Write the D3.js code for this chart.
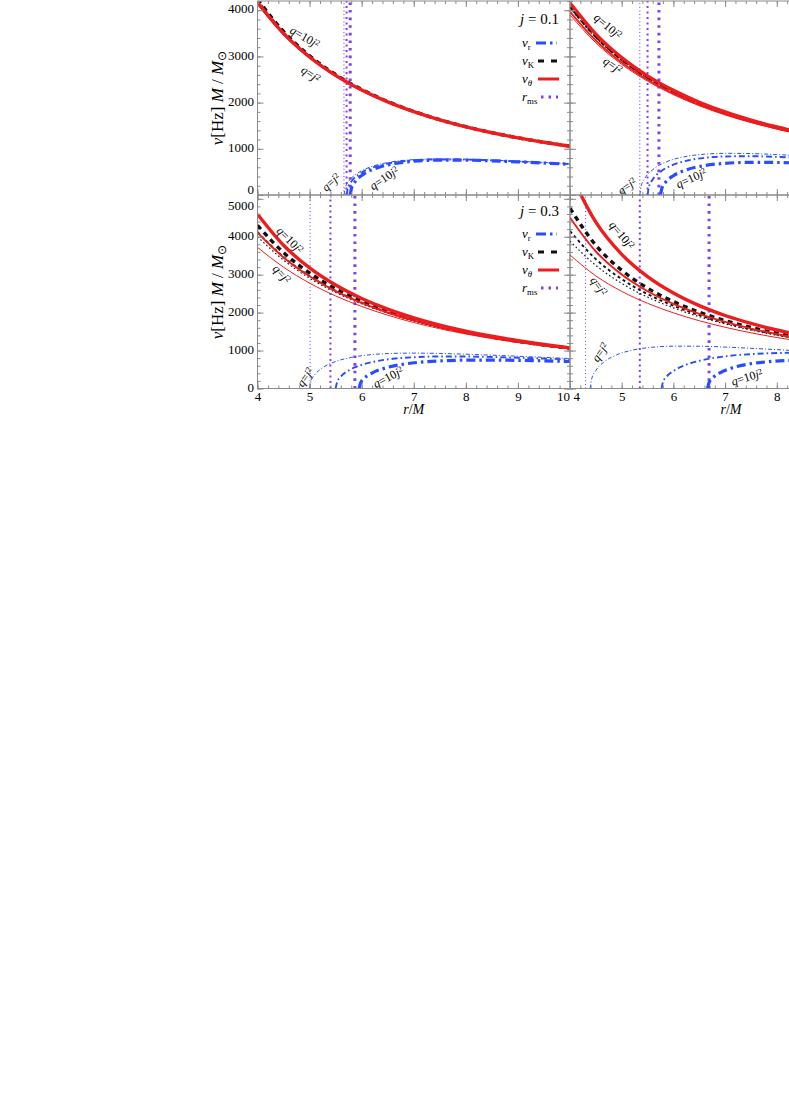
<!DOCTYPE html>
<html><head><meta charset="utf-8">
<script src="https://cdn.jsdelivr.net/npm/d3@7"></script>
<style>
body{margin:0;background:#fff}
svg{display:block}
text{font-family:"Liberation Serif","Times New Roman",serif;fill:#000}
</style>
</head><body>
<svg id="c" width="789" height="1115"></svg>
<script>
// ---------------- data ----------------
const rGrid = [4,4.5,5,5.5,6,6.5,7,7.5,8,8.5,9,9.5,10];
const xTicks = [4,5,6,7,8,9,10];
const yTicksTop = [0,1000,2000,3000,4000];
const yTicksBottom = [0,1000,2000,3000,4000,5000];

// top-left, j = 0.1
const tlThetaThin  = [4125,3465,2963,2571,2259,2005,1795,1620,1472,1345,1235,1139,1054];
const tlThetaMed   = [4150,3482,2975,2580,2266,2010,1799,1623,1474,1346,1236,1140,1055];
const tlThetaThick = [4175,3499,2987,2589,2273,2015,1803,1626,1476,1348,1237,1141,1056];
const tlKThin  = [4190,3508,2994,2593,2275,2017,1804,1627,1477,1348,1237,1141,1056];
const tlKMed   = [4215,3524,3004,2600,2280,2020,1806,1628,1478,1349,1238,1141,1056];
const tlKThick = [4240,3540,3015,2608,2286,2024,1809,1630,1479,1350,1239,1142,1057];
const tlRThinR  = [5.66,5.69,5.76,5.91,6.16,6.5,7,7.5,8,8.5,9,9.5,10];
const tlRThin   = [0,173,309,464,604,703,765,781,774,756,731,704,675];
const tlRMedR   = [5.71,5.74,5.81,5.96,6.21,6.5,7,7.5,8,8.5,9,9.5,10];
const tlRMed    = [0,170,304,456,594,681,751,770,766,749,725,699,671];
const tlRThickR = [5.78,5.81,5.88,6.03,6.28,6.5,7,7.5,8,8.5,9,9.5,10];
const tlRThick  = [0,166,296,446,581,651,730,755,754,740,718,693,665];
const tlRms = [5.66,5.71,5.78];

// top-right
const trThetaThin  = [3899,3294,2829,2465,2173,1933,1735,1569,1427,1306,1201,1109,1028];
const trThetaMed   = [3966,3344,2868,2495,2197,1953,1751,1583,1439,1316,1210,1117,1035];
const trThetaThick = [4154,3483,2975,2580,2265,2009,1798,1622,1472,1345,1234,1139,1054];
const trKThin  = [4050,3406,2915,2533,2228,1978,1772,1600,1454,1329,1221,1127,1043];
const trKMed   = [4075,3424,2930,2544,2237,1985,1778,1605,1458,1333,1224,1129,1046];
const trKThick = [4100,3443,2944,2555,2246,1993,1784,1610,1463,1337,1227,1132,1048];
const trRThinR  = [5.35,5.38,5.45,5.6,5.85,6.2,6.6,7,7.5,8,8.5,9,9.5,10];
const trRThin   = [0,206,366,548,711,825,883,902,897,875,845,811,777,742];
const trRMedR   = [5.5,5.53,5.6,5.75,6.0,6.3,6.6,7,7.5,8,8.5,9,9.5,10];
const trRMed    = [0,189,337,505,656,753,804,835,840,825,801,771,740,708];
const trRThickR = [5.75,5.78,5.85,6.0,6.25,6.6,7,7.5,8,8.5,9,9.5,10];
const trRThick  = [0,156,278,418,544,636,686,707,704,690,669,645,620];
const trRms = [5.35,5.50,5.72];

// bottom-left, j = 0.3
const blThetaThin  = [3720,3198,2778,2440,2163,1932,1739,1576,1436,1316,1210,1119,1038];
const blThetaMed   = [4108,3455,2957,2567,2257,2003,1794,1619,1470,1343,1233,1138,1053];
const blThetaThick = [4593,3775,3178,2726,2374,2091,1862,1672,1513,1378,1261,1161,1073];
const blKThin  = [4000,3383,2907,2532,2231,1983,1778,1607,1461,1335,1227,1133,1049];
const blKMed   = [4125,3466,2964,2573,2261,2006,1796,1620,1472,1344,1234,1139,1054];
const blKThick = [4300,3582,3044,2630,2303,2038,1821,1640,1487,1357,1244,1147,1061];
const blRThinR  = [5.0,5.03,5.1,5.25,5.5,5.8,6.2,6.6,7,7.5,8,8.5,9,9.5,10];
const blRThin   = [0,204,363,546,711,820,894,925,933,924,904,879,850,820,790];
const blRMedR   = [5.5,5.53,5.6,5.75,6.0,6.3,6.6,7,7.5,8,8.5,9,9.5,10];
const blRMed    = [0,176,315,475,624,724,783,825,844,843,831,812,790,765];
const blRThickR = [5.95,5.98,6.05,6.2,6.45,6.8,7.2,7.6,8,8.5,9,9.5,10];
const blRThick  = [0,150,269,408,538,640,702,734,748,750,742,729,711];
const blRms = [5.01,5.40,5.87];

// bottom-right
const brThetaThin  = [3520,2967,2560,2245,1994,1786,1614,1468,1343,1235,1141,1058,984];
const brThetaMed   = [4501,3611,3004,2564,2230,1967,1754,1580,1433,1309,1202,1109,1027];
const brThetaThick = [5678,4384,3537,2948,2516,2184,1924,1715,1542,1399,1276,1172,1080];
const brKThin  = [3885,3243,2771,2410,2125,1892,1700,1539,1403,1285,1183,1094,1015];
const brKMed   = [4150,3410,2883,2488,2181,1934,1732,1565,1423,1301,1196,1105,1025];
const brKThick = [4751,3774,3117,2645,2291,2012,1790,1608,1456,1328,1217,1122,1039];
const brRThinR  = [4.39,4.42,4.5,4.65,4.9,5.2,5.6,6.0,6.5,7,7.5,8,8.5,9,10];
const brRThin   = [0,256,475,691,885,1009,1087,1115,1114,1092,1060,1024,986,947,873];
const brRMedR   = [5.77,5.8,5.87,6.0,6.25,6.6,7,7.5,8,8.5,9,10];
const brRMed    = [0,175,315,462,627,760,847,906,934,943,942,920];
const brRThickR = [6.66,6.69,6.76,6.9,7.1,7.4,7.8,8.2,8.6,9,10];
const brRThick  = [0,155,277,412,527,630,703,740,755,757,732];
const brRms = [4.30,5.35,6.69];

// ---------------- styles ----------------
const RED = '#ee1c1c', BLUE = '#2a4cff', PURPLE = '#8040f0', BLACK = '#111';
const FRAME = '#8a8a8a';
const SERIF = '"Liberation Serif","Times New Roman",serif';
const sty = {
  red:   [{w:1},{w:1.9},{w:3.4}],
  black: [{w:1.1,d:'1.6,2.4'},{w:1.9,d:'3,3'},{w:3.4,d:'5,4.5'}],
  blue:  [{w:1,d:'4,2,1,2'},{w:1.9,d:'6,3,1.6,3'},{w:3.2,d:'9,4,2.5,4'}],
  rms:   [{w:1.1,d:'1,2.6'},{w:2,d:'2,3.5'},{w:3,d:'2.6,5'}]
};

const svg = d3.select('#c');
const W = 789;
const xL = d3.scaleLinear().domain([4,10]).range([257.5,570]);
const xR = d3.scaleLinear().domain([4,10]).range([570,880.2]);
const yT = d3.scaleLinear().domain([0,4200]).range([195,1]);
const yB = d3.scaleLinear().domain([0,5100]).range([388.5,195]);

const panels = [
  {id:'tl', x:xL, y:yT, rms:tlRms, theta:[tlThetaThin,tlThetaMed,tlThetaThick], k:[tlKThin,tlKMed,tlKThick],
   rr:[[tlRThinR,tlRThin],[tlRMedR,tlRMed],[tlRThickR,tlRThick]],
   q:[[305,37,30,true],[311,74,35,false],[331,182,-42,false],[384,178,-34,true]]},
  {id:'tr', x:xR, y:yT, rms:trRms, theta:[trThetaThin,trThetaMed,trThetaThick], k:[trKThin,trKMed,trKThick],
   rr:[[trRThinR,trRThin],[trRMedR,trRMed],[trRThickR,trRThick]],
   q:[[608,26,40,true],[613,65,35,false],[627,186,-35,false],[691,178,-25,true]]},
  {id:'bl', x:xL, y:yB, rms:blRms, theta:[blThetaThin,blThetaMed,blThetaThick], k:[blKThin,blKMed,blKThick],
   rr:[[blRThinR,blRThin],[blRMedR,blRMed],[blRThickR,blRThick]],
   q:[[290,240,45,true],[282,274,48,false],[305,377,-55,false],[388,377,-28,true]]},
  {id:'br', x:xR, y:yB, rms:brRms, theta:[brThetaThin,brThetaMed,brThetaThick], k:[brKThin,brKMed,brKThick],
   rr:[[brRThinR,brRThin],[brRMedR,brRMed],[brRThickR,brRThick]],
   q:[[622,235,50,true],[599,286,55,false],[600,352,-55,false],[747,377,-17,true]]}
];

const defs = svg.append('defs');

function rich(sel, parts, size){
  sel.style('font-family', SERIF);
  parts.forEach(p=>{
    const ts = sel.append('tspan').text(p.t);
    if (p.i) ts.attr('font-style','italic');
    if (p.sub) ts.attr('font-size', size*0.68).attr('baseline-shift','-28%');
    if (p.sup) ts.attr('font-size', size*0.68).attr('baseline-shift','42%');
  });
}

panels.forEach(P=>{
  const [x0,x1] = P.x.range(); const [y0,y1] = P.y.range();
  defs.append('clipPath').attr('id','clip-'+P.id).append('rect')
    .attr('x',x0).attr('y',y1).attr('width',x1-x0).attr('height',y0-y1);
  const g = svg.append('g').attr('clip-path','url(#clip-'+P.id+')');

  // r_ms lines
  P.rms.forEach((r,i)=>{
    g.append('line').attr('x1',P.x(r)).attr('x2',P.x(r)).attr('y1',y0).attr('y2',y1)
      .attr('stroke',PURPLE).attr('stroke-width',sty.rms[i].w).attr('stroke-dasharray',sty.rms[i].d);
  });

  const lineG = d3.line().x((d,i)=>P.x(rGrid[i])).y(d=>P.y(d)).curve(d3.curveMonotoneX);
  P.k.forEach((arr,i)=>{
    g.append('path').attr('d',lineG(arr)).attr('fill','none').attr('stroke',BLACK)
      .attr('stroke-width',sty.black[i].w).attr('stroke-dasharray',sty.black[i].d);
  });
  P.theta.forEach((arr,i)=>{
    g.append('path').attr('d',lineG(arr)).attr('fill','none').attr('stroke',RED).attr('stroke-width',sty.red[i].w);
  });
  P.rr.forEach(([rs,vs],i)=>{
    const ln = d3.line().x(d=>P.x(d[0])).y(d=>P.y(d[1])).curve(d3.curveMonotoneX);
    g.append('path').attr('d',ln(rs.map((r,j)=>[r,vs[j]]))).attr('fill','none').attr('stroke',BLUE)
      .attr('stroke-width',sty.blue[i].w).attr('stroke-dasharray',sty.blue[i].d);
  });

  // q labels
  P.q.forEach(([cx,cy,ang,ten])=>{
    const t = g.append('text').attr('transform',`translate(${cx},${cy}) rotate(${ang})`)
      .attr('text-anchor','middle').attr('dy','0.35em').attr('font-size',12);
    rich(t, ten ? [{t:'q',i:true},{t:'=10'},{t:'j',i:true},{t:'2',sup:true}]
                : [{t:'q',i:true},{t:'='},{t:'j',i:true},{t:'2',sup:true}], 12);
  });

  // frame
  svg.append('rect').attr('x',x0).attr('y',y1).attr('width',x1-x0).attr('height',y0-y1)
    .attr('fill','none').attr('stroke',FRAME).attr('stroke-width',1);
});

// ---------------- axes ----------------
function styleAxis(a){
  a.attr('font-family',null);
  a.select('.domain').remove();
  a.selectAll('line').attr('stroke',FRAME).attr('stroke-width',1);
  a.selectAll('text').attr('font-size',13).style('font-family',SERIF).attr('fill','#000');
}
const xMinor = d3.range(4,10.001,0.2);
[[xL,yT,false],[xR,yT,false],[xL,yB,true],[xR,yB,true]].forEach(([x,y,lab])=>{
  const [yb,yt] = y.range();
  const vis = xTicks.filter(d=>x(d) <= W-4);
  let a = svg.append('g').attr('transform',`translate(0,${yb})`)
    .call(d3.axisBottom(x).tickValues(xMinor).tickSizeInner(-3).tickSizeOuter(0).tickFormat(''));
  styleAxis(a);
  a = svg.append('g').attr('transform',`translate(0,${yb})`)
    .call(d3.axisBottom(x).tickValues(lab ? vis : xTicks).tickSizeInner(-6).tickSizeOuter(0).tickPadding(3)
      .tickFormat(lab ? d3.format('d') : ''));
  styleAxis(a);
  if (lab) a.attr('class','xlab-'+(x===xL?'L':'R'));
  a = svg.append('g').attr('transform',`translate(0,${yt})`)
    .call(d3.axisTop(x).tickValues(xMinor).tickSizeInner(-3).tickSizeOuter(0).tickFormat(''));
  styleAxis(a);
  a = svg.append('g').attr('transform',`translate(0,${yt})`)
    .call(d3.axisTop(x).tickValues(xTicks).tickSizeInner(-6).tickSizeOuter(0).tickFormat(''));
  styleAxis(a);
});
// adjust overlapping "10" and "4"
d3.select('.xlab-L').selectAll('.tick text').filter(d=>d===10).attr('text-anchor','end').attr('x',-0.5);
d3.select('.xlab-R').selectAll('.tick text').filter(d=>d===4).attr('text-anchor','start').attr('x',3);

[[yT,yTicksTop],[yB,yTicksBottom]].forEach(([y,tk])=>{
  const maxv = y.domain()[1];
  const minor = d3.range(0,maxv+1,200);
  [[xL,true],[xR,false]].forEach(([x,lab])=>{
    const [xa,xb] = x.range();
    let a = svg.append('g').attr('transform',`translate(${xa},0)`)
      .call(d3.axisLeft(y).tickValues(minor).tickSizeInner(-3).tickSizeOuter(0).tickFormat(''));
    styleAxis(a);
    a = svg.append('g').attr('transform',`translate(${xa},0)`)
      .call(d3.axisLeft(y).tickValues(tk).tickSizeInner(-6).tickSizeOuter(0).tickPadding(3.5)
        .tickFormat(lab ? d3.format('d') : ''));
    styleAxis(a);
    if (lab) {
      a.selectAll('.tick text').attr('dy','0.2em');
      if (y===yB) a.selectAll('.tick text').filter(d=>d===5000).attr('dy','0.8em');
      if (y===yT) a.selectAll('.tick text').filter(d=>d===0).attr('dy','-0.1em');
    }
    if (x===xL) {
      a = svg.append('g').attr('transform',`translate(${xb},0)`)
        .call(d3.axisRight(y).tickValues(minor).tickSizeInner(-3).tickSizeOuter(0).tickFormat(''));
      styleAxis(a);
      a = svg.append('g').attr('transform',`translate(${xb},0)`)
        .call(d3.axisRight(y).tickValues(tk).tickSizeInner(-6).tickSizeOuter(0).tickFormat(''));
      styleAxis(a);
    }
  });
});

// axis titles
[[413.7],[731]].forEach(([cx])=>{
  const t = svg.append('text').attr('x',cx).attr('y',414).attr('text-anchor','middle').attr('font-size',14);
  rich(t,[{t:'r',i:true},{t:'/'},{t:'M',i:true}],14);
});
[98,292].forEach(cy=>{
  const t = svg.append('text').attr('transform',`translate(223,${cy}) rotate(-90)`)
    .attr('text-anchor','middle').attr('font-size',17);
  rich(t,[{t:'ν',i:true},{t:'[Hz]'},{t:' '},{t:'M',i:true},{t:' / '},{t:'M',i:true},{t:'⊙',sub:true}],17);
});

// legends
[[1,'0.1',24,[43,61,79,97]],[195,'0.3',216,[234,252,270,288]]].forEach(([top,jv,ty,ys])=>{
  const t = svg.append('text').attr('x',559).attr('y',ty).attr('text-anchor','end').attr('font-size',15);
  rich(t,[{t:'j',i:true},{t:' = '+jv}],15);
  const items = [
    {parts:[{t:'ν',i:true},{t:'r',sub:true}], c:BLUE, w:3, d:'10,4,2.5,4', x1:536, x2:557},
    {parts:[{t:'ν',i:true},{t:'K',sub:true}], c:BLACK, w:3, d:'6,7', x1:538, x2:557},
    {parts:[{t:'ν',i:true},{t:'θ',i:true,sub:true}], c:RED, w:3, d:null, x1:538, x2:559},
    {parts:[{t:'r',i:true},{t:'ms',sub:true}], c:PURPLE, w:3, d:'2.5,5', x1:541, x2:558}
  ];
  items.forEach((it,i)=>{
    const tt = svg.append('text').attr('x',522).attr('y',ys[i]+3.5).attr('font-size',13);
    rich(tt,it.parts,13);
    svg.append('line').attr('x1',it.x1).attr('x2',it.x2).attr('y1',ys[i]).attr('y2',ys[i])
      .attr('stroke',it.c).attr('stroke-width',it.w).attr('stroke-dasharray',it.d);
  });
});
</script>
</body></html>
